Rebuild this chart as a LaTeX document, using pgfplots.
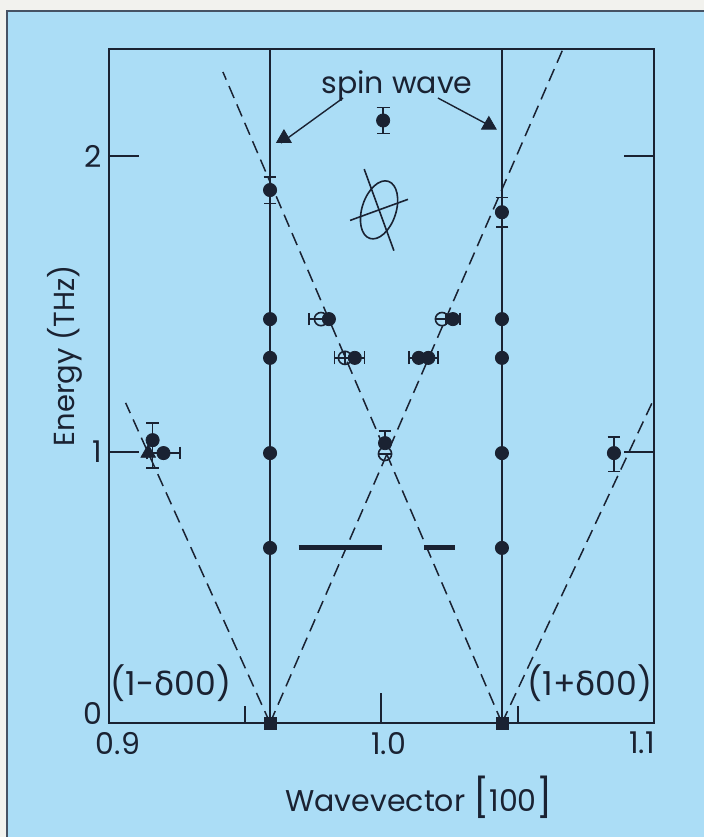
\documentclass[border=0pt]{standalone}
\usepackage{fontspec}
\setmainfont{Poppins}
\newfontfamily\dejavu{DejaVu Sans}
\usepackage{pgfplots}
\pgfplotsset{compat=1.18}
\definecolor{panel}{RGB}{171,221,246}
\definecolor{ink}{RGB}{26,34,50}
\definecolor{paper}{RGB}{242,242,238}
\definecolor{rim}{RGB}{70,82,100}

\begin{document}
\begin{tikzpicture}
\useasboundingbox (0,0) rectangle (352pt,418.5pt);
\fill[paper] (0,0) rectangle (352pt,418.5pt);
\fill[panel] (3.5pt,0) rectangle (352pt,413pt);
\draw[rim, line width=1pt] (3.5pt,0) -- (3.5pt,413pt) -- (352pt,413pt);

\begin{axis}[
    at={(54.5pt,57pt)}, anchor=south west,
    scale only axis, width=272.5pt, height=337pt,
    xmin=0.9, xmax=1.1, ymin=0, ymax=2.3615,
    % the printed energy scale is not linear: 0-1 is shorter than 1-2
    y coord trafo/.code={\pgfmathparse{#1<=1 ? 0.91554*#1 : #1-0.08446}},
    y coord inv trafo/.code={\pgfmathparse{#1<=0.91554 ? #1/0.91554 : #1+0.08446}},
    clip=false,
    axis line style={ink, line width=1pt},
    xtick={0.9,1.0,1.1},
    xticklabels={\kern9pt 0.9,\kern7pt 1.0,1.1\kern12pt},
    minor xtick={0.95,1.05},
    ytick={1,2}, yticklabels={1,2},
    extra y ticks={0}, extra y tick labels={0},
    extra y tick style={major tick length=0pt, yticklabel style={yshift=5pt}},
    xtick pos=bottom, ytick pos=both,
    major tick length=15pt, minor tick length=8.5pt,
    every tick/.style={ink, line width=1pt},
    tick label style={font=\fontsize{15}{17}\selectfont, text=ink},
    x tick label style={yshift=-1pt},
    xlabel={Wavevector {\fontsize{19}{19}\selectfont[}100{\fontsize{19}{19}\selectfont]}},
    ylabel={Energy (THz)},
    every axis x label/.style={at={(axis description cs:0.569,-0.11)}, anchor=center,
        font=\fontsize{15}{17}\selectfont, text=ink},
    every axis y label/.style={at={(axis description cs:-0.081,0.545)}, anchor=center,
        rotate=90, font=\fontsize{14.5}{16}\selectfont, text=ink},
    error bars/error bar style={ink, line width=0.8pt},
    error bars/error mark options={ink, line width=0.8pt, mark size=3.2pt, rotate=90},
]

% lines at the incommensurate positions
\addplot[ink, line width=0.75pt] coordinates {(0.9591,0) (0.9591,2.3615)};
\addplot[ink, line width=0.75pt] coordinates {(1.0442,0) (1.0442,2.3615)};

% spin wave dispersion
\addplot[ink, line width=0.75pt, dash pattern=on 6.5pt off 3.5pt] coordinates {(0.9591,0) (1.0666,2.3615)};
\addplot[ink, line width=0.75pt, dash pattern=on 6.5pt off 3.5pt] coordinates {(1.0442,0) (0.9418,2.284)};
\addplot[ink, line width=0.75pt, dash pattern=on 6.5pt off 3.5pt] coordinates {(0.9591,0) (0.9061,1.166)};
\addplot[ink, line width=0.75pt, dash pattern=on 6.5pt off 3.5pt] coordinates {(1.0442,0) (1.1,1.18)};

% resolution bars
\addplot[ink, line width=2.5pt] coordinates {(0.9696,0.646) (1.0001,0.646)};
\addplot[ink, line width=2.5pt] coordinates {(1.0157,0.646) (1.0268,0.646)};

% filled points without error bars
\addplot[only marks, mark=*, mark size=3.3pt, ink] coordinates {
(0.9591,1.449) (0.9591,1.318) (0.9591,0.996) (0.9591,0.646)
(1.0442,1.449) (1.0442,1.318) (1.0442,0.996) (1.0442,0.646)
(0.9807,1.449)
};

% open points
\addplot[only marks, mark=o, mark size=3.3pt, ink, line width=0.8pt,
    error bars/.cd, x dir=both, x explicit] coordinates {
(0.9778,1.449) += (0,0) -= (0.0044,0)
(1.0222,1.449) +- (0,0)
(0.9866,1.318) += (0,0) -= (0.0038,0)
(1.0013,0.993) +- (0,0)
};

% filled points with horizontal error bars
\addplot[only marks, mark=*, mark size=3.3pt, ink,
    error bars/.cd, x dir=both, x explicit] coordinates {
(1.0262,1.449) +- (0.0025,0)
(0.9902,1.318) +- (0.0036,0)
(1.0137,1.318) +- (0.0035,0)
(1.0172,1.318) +- (0.0035,0)
(0.9200,0.996) +- (0.0060,0)
};

% filled points with vertical error bars
\addplot[only marks, mark=*, mark size=3.3pt, ink,
    error bars/.cd, y dir=both, y explicit] coordinates {
(1.0006,2.120) +- (0,0.044)
(0.9591,1.885) +- (0,0.045)
(1.0442,1.810) +- (0,0.050)
(0.9160,1.040) += (0,0.058) -= (0,0.095)
(1.0853,0.996) += (0,0.054) -= (0,0.062)
(1.0013,1.030) += (0,0.040) -= (0,0)
};

% spin wave points
\addplot[only marks, mark=triangle*, mark size=4.2pt, ink] coordinates {
(0.9642,2.060) (1.0394,2.105) (0.9144,0.996)
};

% zero energy points
\addplot[only marks, mark=square*, mark size=3pt, ink] coordinates {
(0.9591,0) (1.0442,0)
};

% resolution ellipse
\coordinate (E) at (axis cs:0.9991,1.818);
\draw[ink, line width=0.8pt, rotate around={-18:(E)}] (E) ellipse [x radius=8.5pt, y radius=15pt];
\draw[ink, line width=0.8pt] (E) ++(110:21.7pt) -- ++(290:43.4pt);
\draw[ink, line width=0.8pt] (E) ++(20:15.4pt) -- ++(200:30.8pt);

\node[text=ink, font=\fontsize{15}{17}\selectfont] at (axis cs:1.0057,2.235) {spin wave};
\draw[ink, line width=0.7pt] (axis cs:0.9859,2.196) -- (axis cs:0.9631,2.044);
\draw[ink, line width=0.7pt] (axis cs:1.0207,2.196) -- (axis cs:1.0380,2.111);

\node[text=ink, font=\fontsize{16.5}{18}\selectfont] at (axis cs:0.9228,0.148) {(1-{\dejavu δ}00)};
\node[text=ink, font=\fontsize{16.5}{18}\selectfont] at (axis cs:1.0765,0.148) {(1+{\dejavu δ}00)};
\end{axis}
\end{tikzpicture}
\end{document}
